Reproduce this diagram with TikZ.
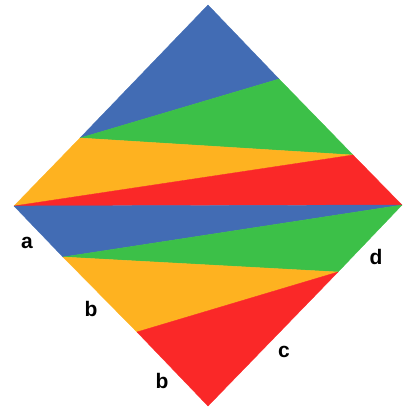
\documentclass[tikz,border=0pt]{standalone}
\usepackage{fontspec}
\setmainfont{Liberation Sans}
\definecolor{cblue}{RGB}{66,108,180}
\definecolor{cgreen}{RGB}{60,192,72}
\definecolor{corange}{RGB}{254,178,32}
\definecolor{cred}{RGB}{250,40,40}
\tikzset{
  piece/.style={fill=#1, draw=#1, line width=0.4pt, line join=round},
  lbl/.style={font=\fontsize{21}{21}\selectfont\bfseries, text=black, inner sep=0pt}
}
\begin{document}
\begin{tikzpicture}[x=1pt,y=-1pt]
\useasboundingbox (0,0) rectangle (406,408);
\coordinate (T) at (208,5);
\coordinate (L) at (14,206);
\coordinate (R) at (402,205);
\coordinate (B) at (208,406);
\coordinate (P1) at (80,138);
\coordinate (P2) at (279,79);
\coordinate (P3) at (353,155);
\coordinate (Q1) at (63,257);
\coordinate (Q2) at (338,272);
\coordinate (Q3) at (137,332);
\path[piece=cblue] (T) -- (P1) -- (P2) -- cycle;
\path[piece=cgreen] (P1) -- (P3) -- (P2) -- cycle;
\path[piece=corange] (P1) -- (L) -- (P3) -- cycle;
\path[piece=cred] (L) -- (R) -- (P3) -- cycle;
\path[piece=cblue] (L) -- (R) -- (Q1) -- cycle;
\path[piece=cgreen] (Q1) -- (R) -- (Q2) -- cycle;
\path[piece=corange] (Q1) -- (Q2) -- (Q3) -- cycle;
\path[piece=cred] (Q3) -- (Q2) -- (B) -- cycle;
\node[lbl] (la) at (27,243) {a};
\node[lbl] (ld) at (376,257) {d};
\node[lbl] (lb1) at (91,309) {b};
\node[lbl] (lb2) at (162,381) {b};
\node[lbl] (lc) at (284,352) {c};
\end{tikzpicture}
\end{document}
